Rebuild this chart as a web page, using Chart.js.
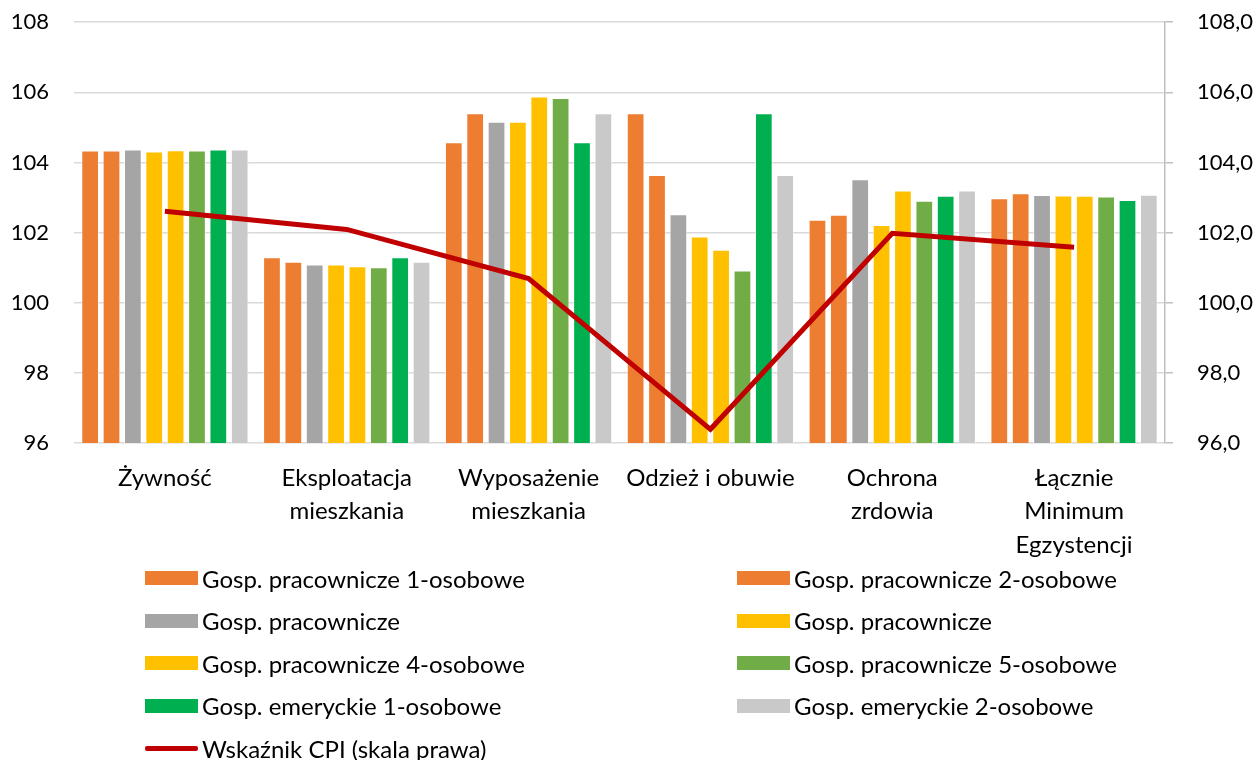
<!DOCTYPE html>
<html>
<head>
<meta charset="utf-8">
<script src="https://cdn.jsdelivr.net/npm/chart.js@4/dist/chart.umd.min.js"></script>
<style>
	body { margin: 0; background: #fff; width: 1258px; height: 760px; overflow: hidden; position: relative; font-family: Lato, "Noto Sans", sans-serif; }
	#wrap { position: absolute; left: 0; top: -16px; width: 1258px; height: 596px; }
	#legend { position: absolute; left: 145px; top: 557px; width: 1100px; display: grid; grid-template-columns: 592px 500px; grid-auto-rows: 42.5px; }
	.item { display: flex; align-items: center; font-size: 24px; color: #000; white-space: nowrap; }
	.box { width: 53px; height: 14px; margin-right: 4px; flex: none; }
	.line { width: 53px; height: 5px; border-radius: 2px; margin-right: 4px; flex: none; }
</style>
</head>
<body>
<div id="wrap"><canvas id="myChart" width="1258" height="596"></canvas></div>
<div id="legend"></div>
<script>
const categories = [
	['Żywność'],
	['Eksploatacja', 'mieszkania'],
	['Wyposażenie', 'mieszkania'],
	['Odzież i obuwie'],
	['Ochrona', 'zrdowia'],
	['Łącznie', 'Minimum', 'Egzystencji']
];
const prac1 = [104.34, 101.30, 104.58, 105.40, 102.37, 102.98];
const prac2 = [104.34, 101.17, 105.40, 103.64, 102.51, 103.12];
const prac3gray = [104.37, 101.09, 105.16, 102.52, 103.52, 103.07];
const prac3yellow = [104.31, 101.09, 105.16, 101.89, 102.22, 103.06];
const prac4 = [104.35, 101.04, 105.88, 101.51, 103.20, 103.05];
const prac5 = [104.34, 101.01, 105.84, 100.92, 102.91, 103.03];
const emer1 = [104.37, 101.30, 104.58, 105.40, 103.05, 102.93];
const emer2 = [104.37, 101.17, 105.40, 103.64, 103.20, 103.08];
const cpi = [102.61, 102.09, 100.69, 96.39, 101.98, 101.58];
const leftTicks = [96, 98, 100, 102, 104, 106, 108];

const barSeries = [
	{ label: 'Gosp. pracownicze 1-osobowe', data: prac1, color: '#ED7D31' },
	{ label: 'Gosp. pracownicze 2-osobowe', data: prac2, color: '#ED7D31' },
	{ label: 'Gosp. pracownicze', data: prac3gray, color: '#A5A5A5' },
	{ label: 'Gosp. pracownicze', data: prac3yellow, color: '#FFC000' },
	{ label: 'Gosp. pracownicze 4-osobowe', data: prac4, color: '#FFC000' },
	{ label: 'Gosp. pracownicze 5-osobowe', data: prac5, color: '#70AD47' },
	{ label: 'Gosp. emeryckie 1-osobowe', data: emer1, color: '#00B050' },
	{ label: 'Gosp. emeryckie 2-osobowe', data: emer2, color: '#C9C9C9' }
];

const fontFamily = 'Lato, "Noto Sans", sans-serif';
Chart.defaults.font.family = fontFamily;
Chart.defaults.font.size = 24;
Chart.defaults.color = '#000';

const datasets = barSeries.map(s => ({
	type: 'bar',
	label: s.label,
	data: s.data,
	backgroundColor: s.color,
	borderColor: 'rgba(255,255,255,0.6)',
	borderWidth: 1,
	yAxisID: 'y',
	order: 1,
	barPercentage: 0.83,
	categoryPercentage: 0.94
}));
datasets.push({
	type: 'line',
	label: 'Wskaźnik CPI (skala prawa)',
	data: cpi,
	borderColor: '#C00000',
	backgroundColor: '#C00000',
	borderWidth: 5,
	pointRadius: 0,
	tension: 0,
	yAxisID: 'y2',
	order: 0
});

const ctx = document.getElementById('myChart').getContext('2d');
const myChart = new Chart(ctx, {
	data: { labels: categories, datasets: datasets },
	options: {
		responsive: false,
		animation: false,
		layout: { padding: 0 },
		plugins: { legend: { display: false }, tooltip: { enabled: false } },
		scales: {
			x: {
				grid: { display: false },
				border: { display: false },
				ticks: { padding: 10, maxRotation: 0, autoSkip: false, font: { lineHeight: 1.4 } },
				afterFit: scale => { scale.height = 137; }
			},
			y: {
				position: 'left',
				min: 96, max: 108,
				afterBuildTicks: scale => { scale.ticks = leftTicks.map(v => ({ value: v })); },
				ticks: { padding: 25, font: { size: 22 }, callback: v => String(v) },
				grid: { color: '#D9D9D9', lineWidth: 1.5, drawTicks: false },
				border: { display: false },
				afterFit: scale => { scale.width = 74; }
			},
			y2: {
				position: 'right',
				min: 96, max: 108,
				afterBuildTicks: scale => { scale.ticks = leftTicks.map(v => ({ value: v })); },
				ticks: { padding: 24, font: { size: 22 }, callback: v => v.toFixed(1).replace('.', ',') },
				grid: { drawOnChartArea: false, drawTicks: true, tickLength: 8, color: '#BFBFBF', lineWidth: 1.5 },
				border: { display: true, color: '#BFBFBF', width: 1.5 },
				afterFit: scale => { scale.width = 93; }
			}
		}
	}
});

// legend in two columns, like the original
const legend = document.getElementById('legend');
myChart.data.datasets.forEach(ds => {
	const item = document.createElement('div');
	item.className = 'item';
	const mark = document.createElement('span');
	mark.className = ds.type === 'line' ? 'line' : 'box';
	mark.style.background = ds.type === 'line' ? ds.borderColor : ds.backgroundColor;
	item.appendChild(mark);
	item.appendChild(document.createTextNode(ds.label));
	legend.appendChild(item);
});
</script>
</body>
</html>
